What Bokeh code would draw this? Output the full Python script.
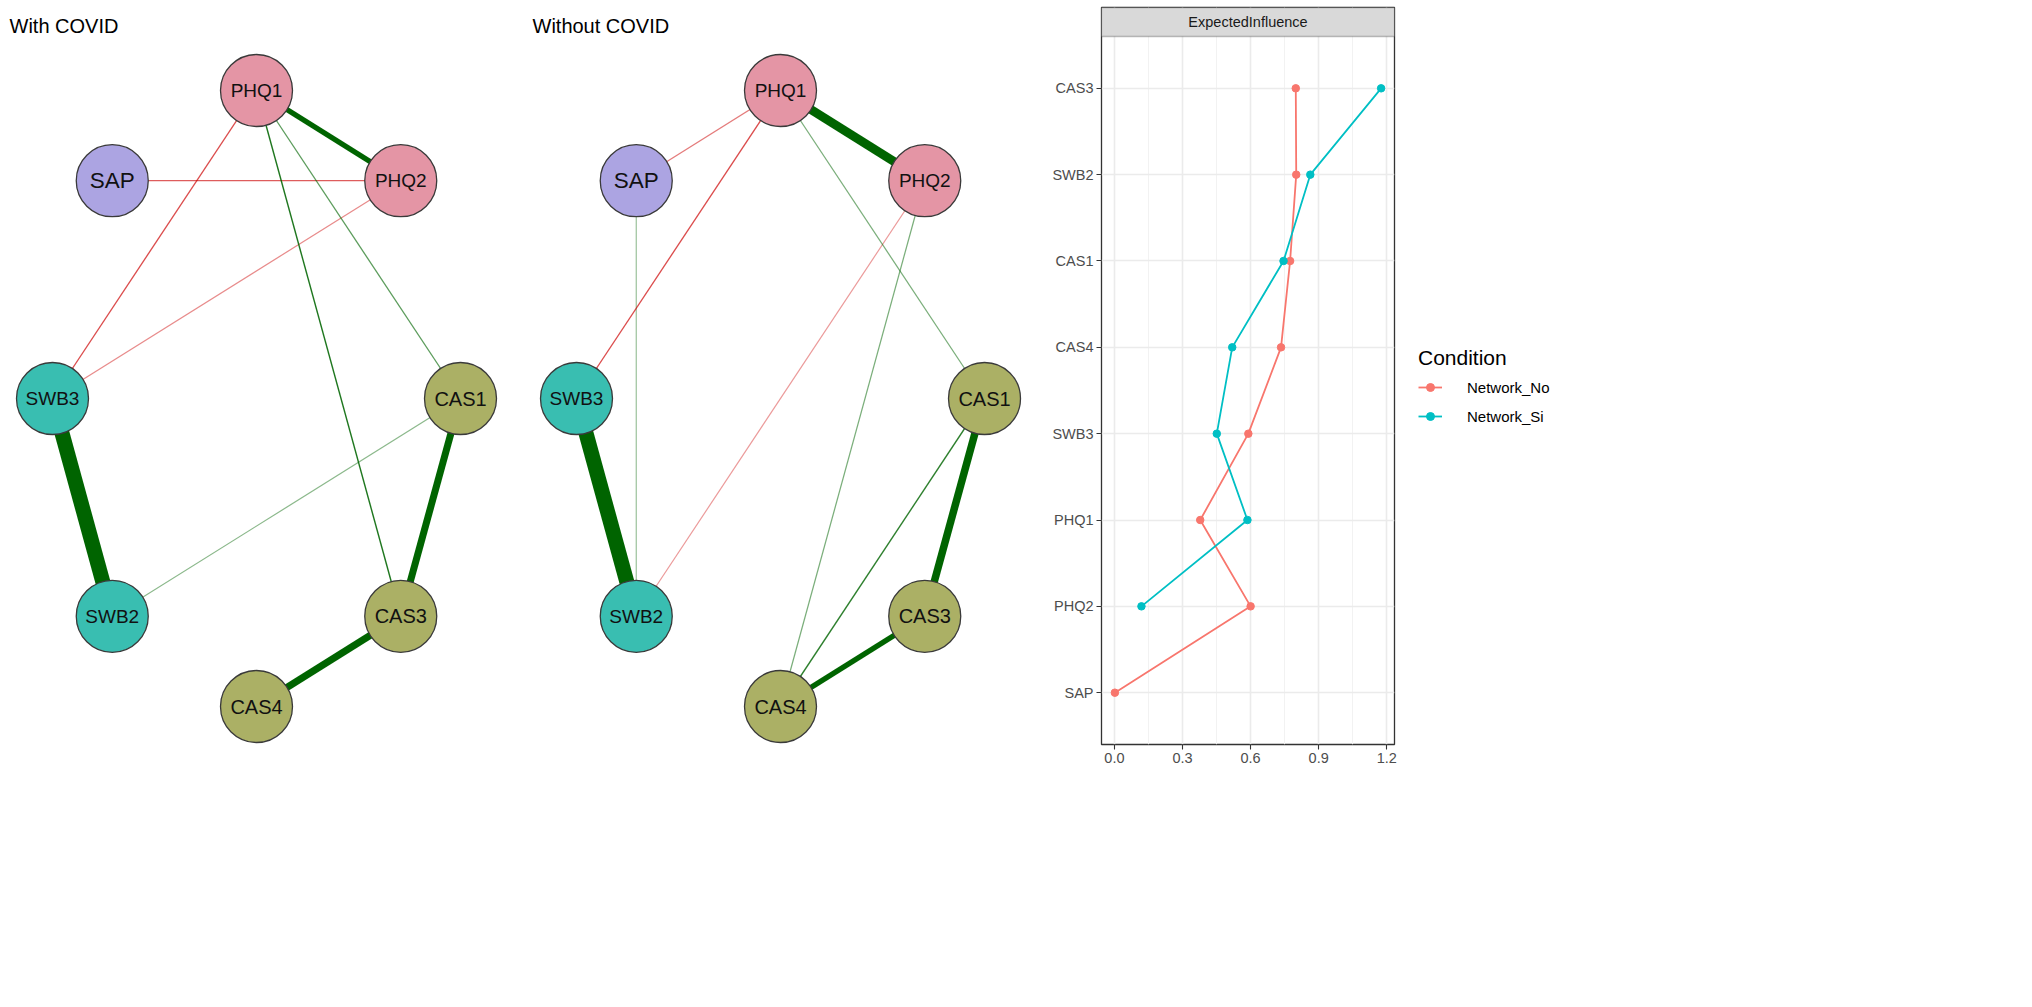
import numpy as np
from bokeh.plotting import figure
from bokeh.layouts import row
from bokeh.models import (Range1d, FixedTicker, ColumnDataSource, Legend, LegendItem,
                          BoxAnnotation, Label, NumeralTickFormatter)
from bokeh.core.properties import value
from bokeh.embed import file_html
from bokeh.resources import INLINE

FONT = "Liberation Sans"

# ---------------- data ----------------
node_order = ["PHQ1", "PHQ2", "CAS1", "CAS3", "CAS4", "SWB2", "SWB3", "SAP"]
node_group = ["PHQ", "PHQ", "CAS", "CAS", "CAS", "SWB", "SWB", "SAP"]
group_names = ["PHQ", "CAS", "SWB", "SAP"]

# network "With COVID" (edge list, signed weights)
with_from = ["PHQ1", "SWB3", "CAS1", "CAS3", "PHQ1", "PHQ1", "SWB2", "PHQ1", "PHQ2", "SAP"]
with_to = ["PHQ2", "SWB2", "CAS3", "CAS4", "CAS1", "CAS3", "CAS1", "SWB3", "SWB3", "PHQ2"]
with_weight = [0.21, 0.60, 0.28, 0.29, 0.07, 0.11, 0.04, -0.08, -0.04, -0.07]

# network "Without COVID"
without_from = ["PHQ1", "SWB3", "CAS1", "CAS3", "PHQ1", "PHQ1", "PHQ1", "SAP", "PHQ2", "PHQ2", "CAS1"]
without_to = ["PHQ2", "SWB2", "CAS3", "CAS4", "SAP", "SWB3", "CAS1", "SWB2", "SWB2", "CAS4", "CAS4"]
without_weight = [0.36, 0.60, 0.30, 0.22, -0.05, -0.08, 0.05, 0.03, -0.03, 0.05, 0.10]

# centrality (Expected Influence)
cent_nodes = ["SAP", "PHQ2", "PHQ1", "SWB3", "CAS4", "CAS1", "SWB2", "CAS3"]
ei_network_no = [0.002, 0.600, 0.378, 0.590, 0.734, 0.774, 0.801, 0.799]
ei_network_si = [float("nan"), 0.119, 0.586, 0.451, 0.519, 0.745, 0.863, 1.175]
condition_labels = ["Network_No", "Network_Si"]
x_ticks = [0.0, 0.3, 0.6, 0.9, 1.2]

# ---------------- styles ----------------
group_colors = {"PHQ": "#E495A5", "CAS": "#ABB065", "SWB": "#39BEB1", "SAP": "#ACA4E2"}
label_sizes = {"PHQ1": "19px", "PHQ2": "19px", "CAS1": "20px", "CAS3": "20px", "CAS4": "20px",
               "SWB2": "19px", "SWB3": "19px", "SAP": "22.5px"}
series_colors = ["#F8766D", "#00BFC4"]
POS_RGB = (0, 100, 0)
NEG_RGB = (204, 0, 0)
CY, RX, RY = 398.0, 204.0, 308.0
NODE_D = 72
H = 991
TOP = 7
BOTTOM = 247   # shared bottom border (frames in a row are aligned)
FRAME_BOTTOM = H - BOTTOM

net = figure(width=1030, height=H, x_range=Range1d(0, 1030), y_range=Range1d(FRAME_BOTTOM, TOP),
             output_backend="svg", toolbar_location=None, x_axis_type=None, y_axis_type=None,
             min_border_left=0, min_border_right=0, min_border_top=TOP, min_border_bottom=BOTTOM)
net.grid.visible = False
net.outline_line_color = None
net.background_fill_color = "white"
net.border_fill_color = "white"


def circle_layout(cx):
    n = len(node_order)
    ang = np.arange(n) * 2 * np.pi / n
    xs = cx + RX * np.sin(ang)
    ys = CY - RY * np.cos(ang)
    return {k: (float(x), float(y)) for k, x, y in zip(node_order, xs, ys)}


def draw_network(cx, e_from, e_to, e_w, title, title_x):
    pos = circle_layout(cx)
    order = np.argsort(np.abs(e_w))
    d = dict(x0=[], y0=[], x1=[], y1=[], w=[], c=[], a=[])
    for i in order:
        w = e_w[i]
        aw = abs(w)
        (xa, ya), (xb, yb) = pos[e_from[i]], pos[e_to[i]]
        d["x0"].append(xa); d["y0"].append(ya); d["x1"].append(xb); d["y1"].append(yb)
        d["w"].append(25 * aw if aw >= 0.15 else 1.1 + 3 * aw)
        r, g, b = POS_RGB if w > 0 else NEG_RGB
        d["c"].append("#%02x%02x%02x" % (r, g, b))
        d["a"].append(min(1.0, 0.22 + 6 * aw))
    net.segment("x0", "y0", "x1", "y1", source=ColumnDataSource(d), line_width="w",
                line_color="c", line_alpha="a")
    nd = dict(x=[pos[k][0] for k in node_order], y=[pos[k][1] for k in node_order],
              t=node_order, fc=[group_colors[g] for g in node_group],
              fs=[label_sizes[k] for k in node_order])
    src = ColumnDataSource(nd)
    net.scatter("x", "y", source=src, size=NODE_D, marker="circle", fill_color="fc",
                line_color="#3a3a3a", line_width=1.3)
    net.text("x", "y", text="t", source=src, text_font=value(FONT), text_font_size="fs",
             text_align="center", text_baseline="middle", text_color="#111111")
    net.add_layout(Label(x=title_x, y=25, text=title, text_font=FONT, text_font_size="20px",
                         text_align="left", text_baseline="middle", text_color="black"))


draw_network(256.0, with_from, with_to, with_weight, "With COVID", 9)
draw_network(780.0, without_from, without_to, without_weight, "Without COVID", 532)

# ---------------- centrality plot ----------------
x_lo, x_hi = -0.057, 1.234
y_lo, y_hi, strip_top = 0.4, 8.6, 8.936
cent = figure(width=384, height=H, x_range=Range1d(x_lo, x_hi), y_range=Range1d(y_lo, strip_top),
              output_backend="svg", toolbar_location=None,
              min_border_left=71, min_border_right=20, min_border_top=TOP, min_border_bottom=BOTTOM)
cent.background_fill_color = "white"
cent.border_fill_color = "white"
cent.outline_line_color = "#333333"
cent.outline_line_width = 1.3

ypos = list(range(1, len(cent_nodes) + 1))
x_minor = [(a + b) / 2 for a, b in zip(x_ticks[:-1], x_ticks[1:])]

cent.xaxis.ticker = FixedTicker(ticks=x_ticks, minor_ticks=x_minor)
cent.xaxis.formatter = NumeralTickFormatter(format="0.0")
cent.yaxis.ticker = FixedTicker(ticks=ypos)
cent.yaxis.major_label_overrides = {p: n for p, n in zip(ypos, cent_nodes)}
for ax in (cent.xaxis, cent.yaxis):
    ax.axis_line_color = None
    ax.major_tick_line_color = "#333333"
    ax.major_tick_line_width = 1.1
    ax.major_tick_out = 5
    ax.major_tick_in = 0
    ax.minor_tick_line_color = None
    ax.major_label_text_font = FONT
    ax.major_label_text_font_size = "14.5px"
    ax.major_label_text_color = "#4D4D4D"
    ax.major_label_standoff = 3

cent.xgrid.grid_line_color = "#EBEBEB"
cent.xgrid.grid_line_width = 1.6
cent.xgrid.minor_grid_line_color = "#F2F2F2"
cent.xgrid.minor_grid_line_width = 1.0
cent.ygrid.grid_line_color = "#EBEBEB"
cent.ygrid.grid_line_width = 1.6

src_no = ColumnDataSource(dict(x=ei_network_no, y=ypos))
src_si = ColumnDataSource(dict(x=ei_network_si, y=ypos))
sources = [src_no, src_si]
for src, col in zip(sources, series_colors):
    cent.line("x", "y", source=src, line_color=col, line_width=1.8)
    cent.scatter("x", "y", source=src, size=7.5, marker="circle", color=col)

strip = BoxAnnotation(bottom=y_hi, top=strip_top, fill_color="#D9D9D9", fill_alpha=1.0,
                      line_color="#333333", line_width=1.3)
cent.add_layout(strip)
cent.add_layout(Label(x=(x_lo + x_hi) / 2, y=(y_hi + strip_top) / 2, text="ExpectedInfluence",
                      text_font=FONT, text_font_size="14.5px", text_color="#1A1A1A",
                      text_align="center", text_baseline="middle"))

# ---------------- legend panel ----------------
# same series drawn again on a panel whose ranges keep them out of view; only their legend shows
leg = figure(width=602, height=H, x_range=Range1d(10, 11), y_range=Range1d(100, 101),
             output_backend="svg", toolbar_location=None, x_axis_type=None, y_axis_type=None,
             min_border_left=0, min_border_right=0, min_border_top=TOP, min_border_bottom=BOTTOM)
leg.grid.visible = False
leg.outline_line_color = None
leg.background_fill_color = "white"
leg.border_fill_color = "white"

items = []
for lab, src, col in zip(condition_labels, sources, series_colors):
    lr = leg.line("x", "y", source=src, line_color=col, line_width=1.8)
    pr = leg.scatter("x", "y", source=src, size=7.5, marker="circle", color=col)
    items.append(LegendItem(label=lab, renderers=[lr, pr]))

legend = Legend(items=items, location=(4, 318), title="Condition")
legend.title_text_font = FONT
legend.title_text_font_size = "21px"
legend.title_text_font_style = "normal"
legend.title_text_color = "black"
legend.title_standoff = 7
legend.label_text_font = FONT
legend.label_text_font_size = "15px"
legend.label_text_color = "black"
legend.glyph_width = 24
legend.glyph_height = 20
legend.label_standoff = 25
legend.spacing = 9
legend.padding = 0
legend.margin = 0
legend.border_line_alpha = 0
legend.background_fill_alpha = 0
leg.add_layout(legend)

layout = row(net, cent, leg)
open("out.html", "w").write(file_html(layout, INLINE))
